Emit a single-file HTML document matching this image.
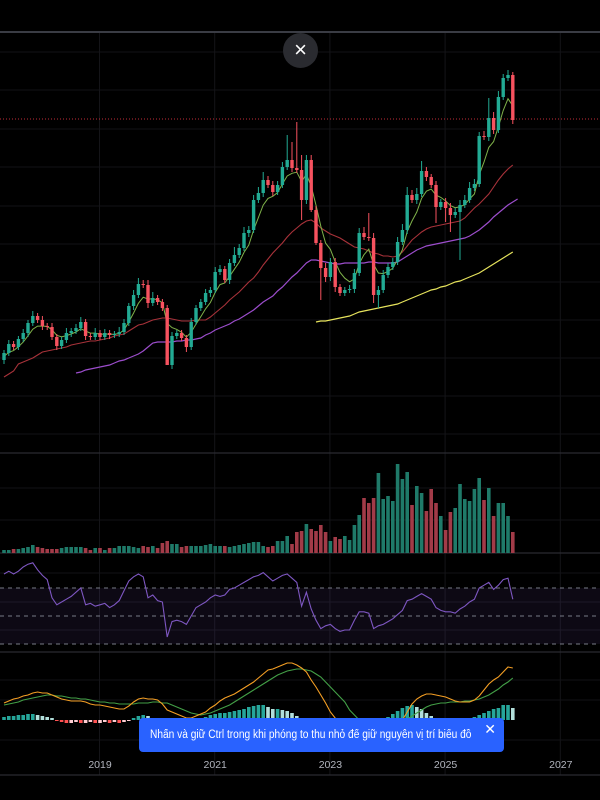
<!DOCTYPE html>
<html><head><meta charset="utf-8">
<style>
html,body{margin:0;padding:0;background:#000;}
body{width:600px;height:800px;overflow:hidden;position:relative;font-family:"Liberation Sans","Noto Sans CJK SC",sans-serif;}
svg{position:absolute;left:0;top:0;}
#toast{position:absolute;left:139px;top:718px;width:365px;height:34px;background:#2962ff;border-radius:4px;color:#fff;font-size:11.5px;line-height:34px;box-sizing:border-box;overflow:hidden;}
#toast-text{position:absolute;left:11px;top:0;white-space:nowrap;transform:scaleX(0.885);transform-origin:left center;}
#toast-close{position:absolute;right:8px;top:-3px;font-size:14px;line-height:28px;color:#fff;cursor:pointer;}
#close-btn{position:absolute;left:283px;top:33px;width:35px;height:35px;border-radius:50%;background:#2a2b30;color:#fff;font-size:22px;line-height:34px;text-align:center;cursor:pointer;}
</style></head>
<body>
<svg id="chart" width="600" height="800"></svg>
<div id="close-btn">×</div>
<div id="toast"><span id="toast-text">Nhấn và giữ Ctrl trong khi phóng to thu nhỏ để giữ nguyên vị trí biểu đồ</span><span id="toast-close">✕</span></div>
<script>
const firstOpen = 40;
const closes = [47,56,53,61,67,77,84,80,74,73, 63,54,60,67,69,72,78,64,63,67, 63,67,65,66,68,77,94,105,116,115, 97,102,98,92,35,64,67,62,53,78, 92,98,107,110,128,131,120,137,145,152, 167,170,200,207,220,215,208,215,233,240, 232,230,200,240,190,157,132,123,138,113, 107,110,111,127,167,163,162,105,110,125, 133,138,158,170,205,200,206,229,223,215, 193,198,192,185,188,195,200,212,216,264, 263,282,270,303,322,325,280];
const wickUp = [3,4,3,3,4,3,5,3,4,3, 4,3,3,5,3,4,5,3,3,5, 3,4,3,3,5,4,3,5,6,4, 5,6,3,3,3,4,3,3,3,4, 3,3,4,3,5,4,3,4,8,4, 6,4,5,6,8,4,4,4,5,25, 18,46,15,5,5,4,3,5,4,4, 3,3,4,4,5,6,24,5,4,5, 4,4,5,6,8,5,6,10,4,3, 4,3,4,5,4,5,5,6,5,4, 5,20,6,6,4,5,3];
const wickDn = [4,3,3,3,3,4,3,3,4,3, 3,4,3,3,4,3,3,4,3,3, 3,3,4,3,3,3,3,4,3,3, 5,3,3,3,0,4,3,3,5,3, 3,3,3,4,3,3,3,4,3,3, 3,4,3,3,4,3,4,3,3,3, 4,3,20,4,2,2,32,5,4,5, 3,3,3,4,3,3,3,8,13,3, 3,3,3,3,4,3,4,3,4,3, 16,3,14,17,3,48,3,3,3,3, 3,4,4,3,3,3,4];
const maRed = [23,26,29,36,38,40,42,45,48,49, 50,51,52,53,55,56,57,58,59,59, 60,61,62,64,65,66,69,72,75,76, 78,80,81,82,82,81,80,79,79,79, 80,80,80,83,87,91,95,100,104,108, 113,118,122,128,135,141,147,152,157,163, 168,172,176,179,180,177,172,169,166,164, 162,159,156,153,152,151,149,147,146,144, 144,143,144,148,154,160,164,168,171,173, 174,175,176,177,178,179,182,187,192,196, 201,206,213,220,226,231,235];
const maPurpleStart = 15;
const maPurple = [27,28,30,31,32,33,34,35,37,39, 40,42,44,46,49,53,57,58,58,58, 58,59,59,60,60,61,62,65,67,70, 72,74,76,79,81,84,87,90,94,98, 101,104,109,113,118,123,127,132,137,140, 140,139,138,137,136,136,137,137,137,137, 137,138,138,137,137,137,137,138,141,144, 147,150,152,154,155,156,157,158,159,160, 161,162,164,167,170,174,178,183,187,191, 195,198,201];
const maYellowStart = 65;
const maYellow = [78,79,79,80,81,82,83,84,86,88, 89,90,91,92,93,94,95,96,98,100, 102,104,106,108,110,111,113,114,116,118, 119,121,123,125,127,130,133,136,139,142, 145,148];
const volumes = [3,3,4,4,5,6,8,6,5,4, 4,4,5,6,6,6,6,5,3,5, 5,3,5,5,7,7,7,6,5,7, 6,7,5,10,12,9,9,6,7,7, 7,7,8,9,7,7,7,6,7,8, 9,10,11,11,7,6,7,12,12,17, 9,21,22,29,24,22,28,21,12,16, 14,17,13,28,38,55,50,55,80,54, 57,52,89,74,81,48,67,60,42,64, 50,37,23,41,45,69,54,52,64,75, 53,65,37,50,50,37,21];
const rsi = [80,82,80,82,85,87,88,83,79,76, 63,58,60,62,64,67,70,58,59,57, 58,59,56,58,61,68,75,78,80,78, 63,65,61,60,35,46,47,46,44,50, 56,58,60,63,65,64,65,69,70,72, 74,76,78,79,81,78,75,77,79,80, 77,74,57,67,55,47,41,43,44,41, 39,40,40,47,53,53,52,41,43,44, 46,48,51,54,61,62,64,66,64,62, 56,54,53,53,52,55,57,60,62,70, 72,74,69,72,76,77,62];
const macd = [17,19,21,22,24,25,27,28,27,27, 25,23,21,20,19,19,19,18,16,15, 15,14,13,12,11,11,14,18,21,22, 21,21,20,16,10,8,6,4,2,2, 4,6,8,12,15,19,22,24,26,29, 32,35,38,42,46,50,51,53,55,57, 57,55,52,48,40,33,25,17,8,2, -8,-15,-20,-24,-26,-27,-27,-26,-24,-20, -15,-10,-5,0,8,16,21,24,26,26, 25,24,23,21,19,18,18,18,20,24, 30,36,40,43,48,53,52];
const signal = [15,16,17,18,20,21,22,23,24,25, 25,24,24,23,22,22,21,21,20,19, 18,18,17,17,16,16,16,16,17,17, 17,18,18,17,17,15,13,11,9,7, 6,5,6,7,9,11,13,15,18,21, 24,27,30,33,36,39,42,45,47,49, 50,51,51,50,49,46,43,38,33,28, 23,18,10,5,0,-5,-9,-12,-13,-13, -11,-8,-5,-2,1,4,7,10,13,15, 16,17,17,18,18,18,19,19,20,21, 23,25,28,31,35,38,42];
const hist = [3,4,4,5,5,6,6,5,4,3, 2,-1,-2,-3,-3,-2,-3,-3,-2,-3, -3,-2,-3,-2,-3,-2,-1,2,4,5, 4,2,1,-1,-3,-4,-4,-3,-2,-1, 1,2,3,5,6,7,7,8,9,10, 11,13,14,15,15,13,11,11,10,9, 7,4,0,-3,-8,-15,-20,-22,-22,-20, -18,-15,-12,-10,-6,-3,-1,0,1,2, 3,6,9,12,14,15,13,11,7,4, 2,1,0,-1,-1,0,1,2,3,5, 7,9,11,12,15,15,12];
const yearLabels = ["2019","2021","2023","2025","2027"];
const yearBarIndex = [20,44,68,92,116];

const NS = "http://www.w3.org/2000/svg";
const svg = document.getElementById("chart");
function xAt(i){ return 4 + i*4.8; }
function yPrice(p){ return 400 - p; }
function yVol(v){ return 553 - v; }
function yRsi(r){ return 588 + (70 - r) * 1.4; }
function yMacd(v){ return 720 - v; }
function mk(tag, attrs, parent){
  const e = document.createElementNS(NS, tag);
  for (const k in attrs) e.setAttribute(k, attrs[k]);
  (parent || svg).appendChild(e);
  return e;
}
function group(name){
  const g = mk("g", {});
  
  
  return g;
}

const hdr = mk("rect", {x:0,y:31,width:600,height:2,fill:"#3a3c44"});



const grid = group('grid-lines');
[52,90,129,167,206,244,282,320,358,396,434].forEach(y => mk("line",{x1:0,x2:600,y1:y,y2:y,stroke:"#121216","stroke-width":1},grid));
[488,520].forEach(y => mk("line",{x1:0,x2:600,y1:y,y2:y,stroke:"#121216"},grid));
[573,602,630].forEach(y => mk("line",{x1:0,x2:600,y1:y,y2:y,stroke:"#121216"},grid));
[680,700,740].forEach(y => mk("line",{x1:0,x2:600,y1:y,y2:y,stroke:"#121216"},grid));
yearBarIndex.forEach(i => { const x = xAt(i) - 0.5; mk("line",{x1:x,x2:x,y1:33,y2:775,stroke:"#141418"},grid); });

const seps = group('pane-separators');
[453,553,652,775].forEach(y => mk("line",{x1:0,x2:600,y1:y,y2:y,stroke:"#2a2b31","stroke-width":1.2},seps));

const pl = mk("line",{x1:0,x2:600,y1:119,y2:119,stroke:"#f23645","stroke-width":1,"stroke-dasharray":"1 2",opacity:0.8});



function linePath(vals, start, yf){
  let d = "";
  vals.forEach((v,k) => { d += (k ? "L" : "M") + xAt(start+k).toFixed(1) + " " + yf(v).toFixed(1); });
  return d;
}
const ema = [];
closes.forEach((c,i) => { ema.push(i === 0 ? (firstOpen + c)/2 : ema[i-1] + (c - ema[i-1]) / 3); });
const maG = group('moving-averages');
const l1 = mk("path",{d:linePath(maYellow,maYellowStart,yPrice),fill:"none",stroke:"#e6e35c","stroke-width":1.2},maG);


const l2 = mk("path",{d:linePath(maPurple,maPurpleStart,yPrice),fill:"none",stroke:"#9c4dcc","stroke-width":1.2},maG);


const l3 = mk("path",{d:linePath(maRed,0,yPrice),fill:"none",stroke:"#a8323a","stroke-width":1.1},maG);


const l4 = mk("path",{d:linePath(ema,0,yPrice),fill:"none",stroke:"#7fb24a","stroke-width":1},maG);



const cg = group('candlesticks');
closes.forEach((c,i) => {
  const o = i === 0 ? firstOpen : closes[i-1];
  const up = c >= o;
  const col = up ? "#22ab94" : "#f7525f";
  const hi = Math.max(o,c) + wickUp[i], lo = Math.min(o,c) - wickDn[i];
  const x = xAt(i);
  const g = mk("g",{},cg);
  
  
  mk("line",{x1:x,x2:x,y1:yPrice(hi),y2:yPrice(lo),stroke:col,"stroke-width":1},g);
  const top = yPrice(Math.max(o,c)), h = Math.max(1, Math.abs(yPrice(o)-yPrice(c)));
  mk("rect",{x:x-1.7,y:top,width:3.4,height:h,fill:col},g);
});

const vg = group('volume-bars');
volumes.forEach((v,i) => {
  const o = i === 0 ? firstOpen : closes[i-1];
  const up = closes[i] >= o;
  const r = mk("rect",{x:xAt(i)-1.8,y:yVol(v),width:3.6,height:v,fill: up ? "#1f7a69" : "#a23b48"},vg);
  
  
});

const rg = group('rsi-pane');
mk("rect",{x:0,y:588,width:600,height:56,fill:"rgba(126,87,194,0.10)"},rg);
[588,616,644].forEach(y => mk("line",{x1:0,x2:600,y1:y,y2:y,stroke:"#787b86","stroke-width":1,"stroke-dasharray":"4 4"},rg));
const rl = mk("path",{d:linePath(rsi,0,yRsi),fill:"none",stroke:"#7e57c2","stroke-width":1.1},rg);



const mg = group('macd-pane');
hist.forEach((h,i) => {
  const prev = i === 0 ? 0 : hist[i-1];
  let col;
  if (h >= 0) col = h >= prev ? "#26a69a" : "#b2dfdb";
  else col = h < prev ? "#ff5252" : "#ffcdd2";
  const y0 = yMacd(0), y1 = yMacd(h);
  const r = mk("rect",{x:xAt(i)-1.8,y:Math.min(y0,y1),width:3.6,height:Math.max(1,Math.abs(y1-y0)),fill:col},mg);
  
  
});
const sl = mk("path",{d:linePath(signal,0,yMacd),fill:"none",stroke:"#43a047","stroke-width":1.1},mg);


const ml = mk("path",{d:linePath(macd,0,yMacd),fill:"none",stroke:"#f59f24","stroke-width":1.1},mg);



const tg = group('time-axis');
yearLabels.forEach((t,k) => {
  const el = mk("text",{x:xAt(yearBarIndex[k]),y:768,fill:"#b2b5be","font-size":"10.5","text-anchor":"middle","font-family":"Liberation Sans, sans-serif"},tg);
  el.textContent = t;
  
  
});
</script>
</body></html>
